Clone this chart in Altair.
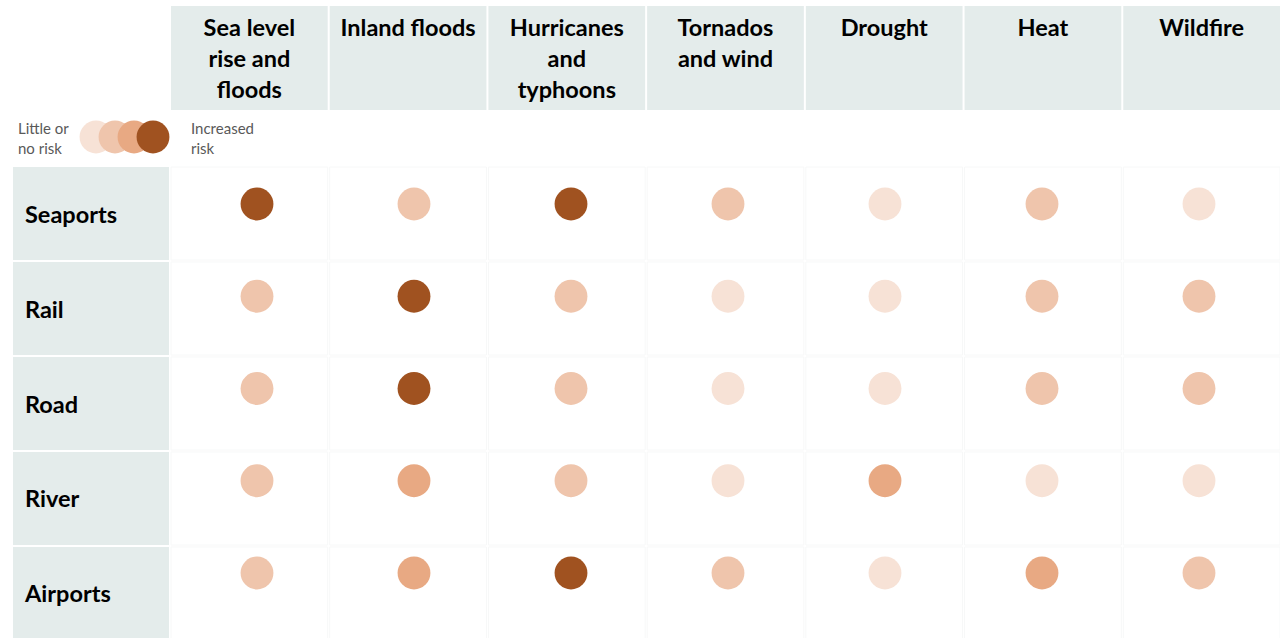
import altair as alt
import pandas as pd

# Hazard columns, asset rows and risk levels (1 = little or no risk ... 4 = increased risk)
hazards = [
    "Sea level rise and floods",
    "Inland floods",
    "Hurricanes and typhoons",
    "Tornados and wind",
    "Drought",
    "Heat",
    "Wildfire",
]
header_labels = [
    "Sea level\nrise and\nfloods",
    "Inland floods",
    "Hurricanes\nand\ntyphoons",
    "Tornados\nand wind",
    "Drought",
    "Heat",
    "Wildfire",
]
assets = ["Seaports", "Rail", "Road", "River", "Airports"]

seaports = [4, 2, 4, 2, 1, 2, 1]
rail = [2, 4, 2, 1, 1, 2, 2]
road = [2, 4, 2, 1, 1, 2, 2]
river = [2, 3, 2, 1, 3, 1, 1]
airports = [2, 3, 4, 2, 1, 3, 2]

levels = [1, 2, 3, 4]
level_colors = ["#F7E2D6", "#EFC5AC", "#E8A983", "#A05220"]
legend_low = "Little or\nno risk"
legend_high = "Increased\nrisk"

FONT = "Lato"
CELL = "#E4ECEB"
INK = "#000000"
MUTED = "#595959"
DOT = 1080

risk_rows = [seaports, rail, road, river, airports]
cells = pd.DataFrame(
    [
        {"asset": a, "hazard": h, "level": row[j]}
        for a, row in zip(assets, risk_rows)
        for j, h in enumerate(hazards)
    ]
)
header_df = pd.DataFrame({"hazard": hazards, "label": header_labels})
asset_df = pd.DataFrame({"asset": assets})
legend_df = pd.DataFrame({"level": levels})

x_band = alt.Scale(domain=hazards, range=[171, 1280], paddingInner=0.0126, paddingOuter=0)
y_band = alt.Scale(domain=assets, range=[167, 640], paddingInner=0.021, paddingOuter=0)
color_scale = alt.Scale(domain=levels, range=level_colors)

# Table frame: header cells, faint body grid, row label cells
header_bg = alt.Chart(header_df).mark_rect(color=CELL).encode(
    x=alt.X("hazard:N", scale=x_band, axis=None),
    y=alt.value(6),
    y2=alt.value(110),
)
header_text = alt.Chart(header_df).mark_text(
    font=FONT, fontSize=23.5, fontWeight="bold", color=INK,
    baseline="top", align="center", lineBreak="\n", lineHeight=31,
).encode(
    x=alt.X("hazard:N", scale=x_band, axis=None),
    y=alt.value(17),
    text="label:N",
)
body_grid = alt.Chart(cells).mark_rect(fill="#FFFFFF", stroke="#F7F8F8", strokeWidth=1).encode(
    x=alt.X("hazard:N", scale=x_band, axis=None),
    y=alt.Y("asset:N", scale=y_band, axis=None),
)
row_bg = alt.Chart(asset_df).mark_rect(color=CELL).encode(
    x=alt.value(13),
    x2=alt.value(169),
    y=alt.Y("asset:N", scale=y_band, axis=None),
)
row_text = alt.Chart(asset_df).mark_text(
    font=FONT, fontSize=23.5, fontWeight="bold", color=INK,
    align="left", baseline="middle", dy=2,
).encode(
    x=alt.value(25),
    y=alt.Y("asset:N", scale=y_band, axis=None),
    text="asset:N",
)
frame = alt.layer(header_bg, header_text, body_grid, row_bg, row_text)

# Risk dots
dots = alt.Chart(cells).mark_circle(size=DOT, opacity=1).encode(
    x=alt.X("hazard:N", scale=alt.Scale(type="point", domain=hazards, range=[257, 1199], padding=0), axis=None),
    y=alt.Y("asset:N", scale=alt.Scale(type="point", domain=assets, range=[204, 573], padding=0), axis=None),
    color=alt.Color("level:O", scale=color_scale, legend=None),
)

# Colour key: overlapping circles between the two end labels
key_dots = alt.Chart(legend_df).mark_circle(size=DOT, opacity=1).encode(
    x=alt.X("level:Q", scale=alt.Scale(domain=[1, 4], range=[96, 153]), axis=None),
    y=alt.value(137),
    color=alt.Color("level:O", scale=color_scale, legend=None),
)
key_low = alt.Chart(pd.DataFrame({"t": [legend_low]})).mark_text(
    font=FONT, fontSize=15, color=MUTED, align="left", baseline="top",
    lineBreak="\n", lineHeight=20,
).encode(x=alt.value(18), y=alt.value(122), text="t:N")
key_high = alt.Chart(pd.DataFrame({"t": [legend_high]})).mark_text(
    font=FONT, fontSize=15, color=MUTED, align="left", baseline="top",
    lineBreak="\n", lineHeight=20,
).encode(x=alt.value(191), y=alt.value(122), text="t:N")

chart = (
    alt.layer(frame, dots, key_dots, key_low, key_high)
    .resolve_scale(x="independent", y="independent")
    .properties(width=1280, height=638, autosize="none", padding=0, background="#FFFFFF")
    .configure_view(stroke=None)
)

chart.save("out.html", embed_options={"renderer": "svg", "actions": False})
